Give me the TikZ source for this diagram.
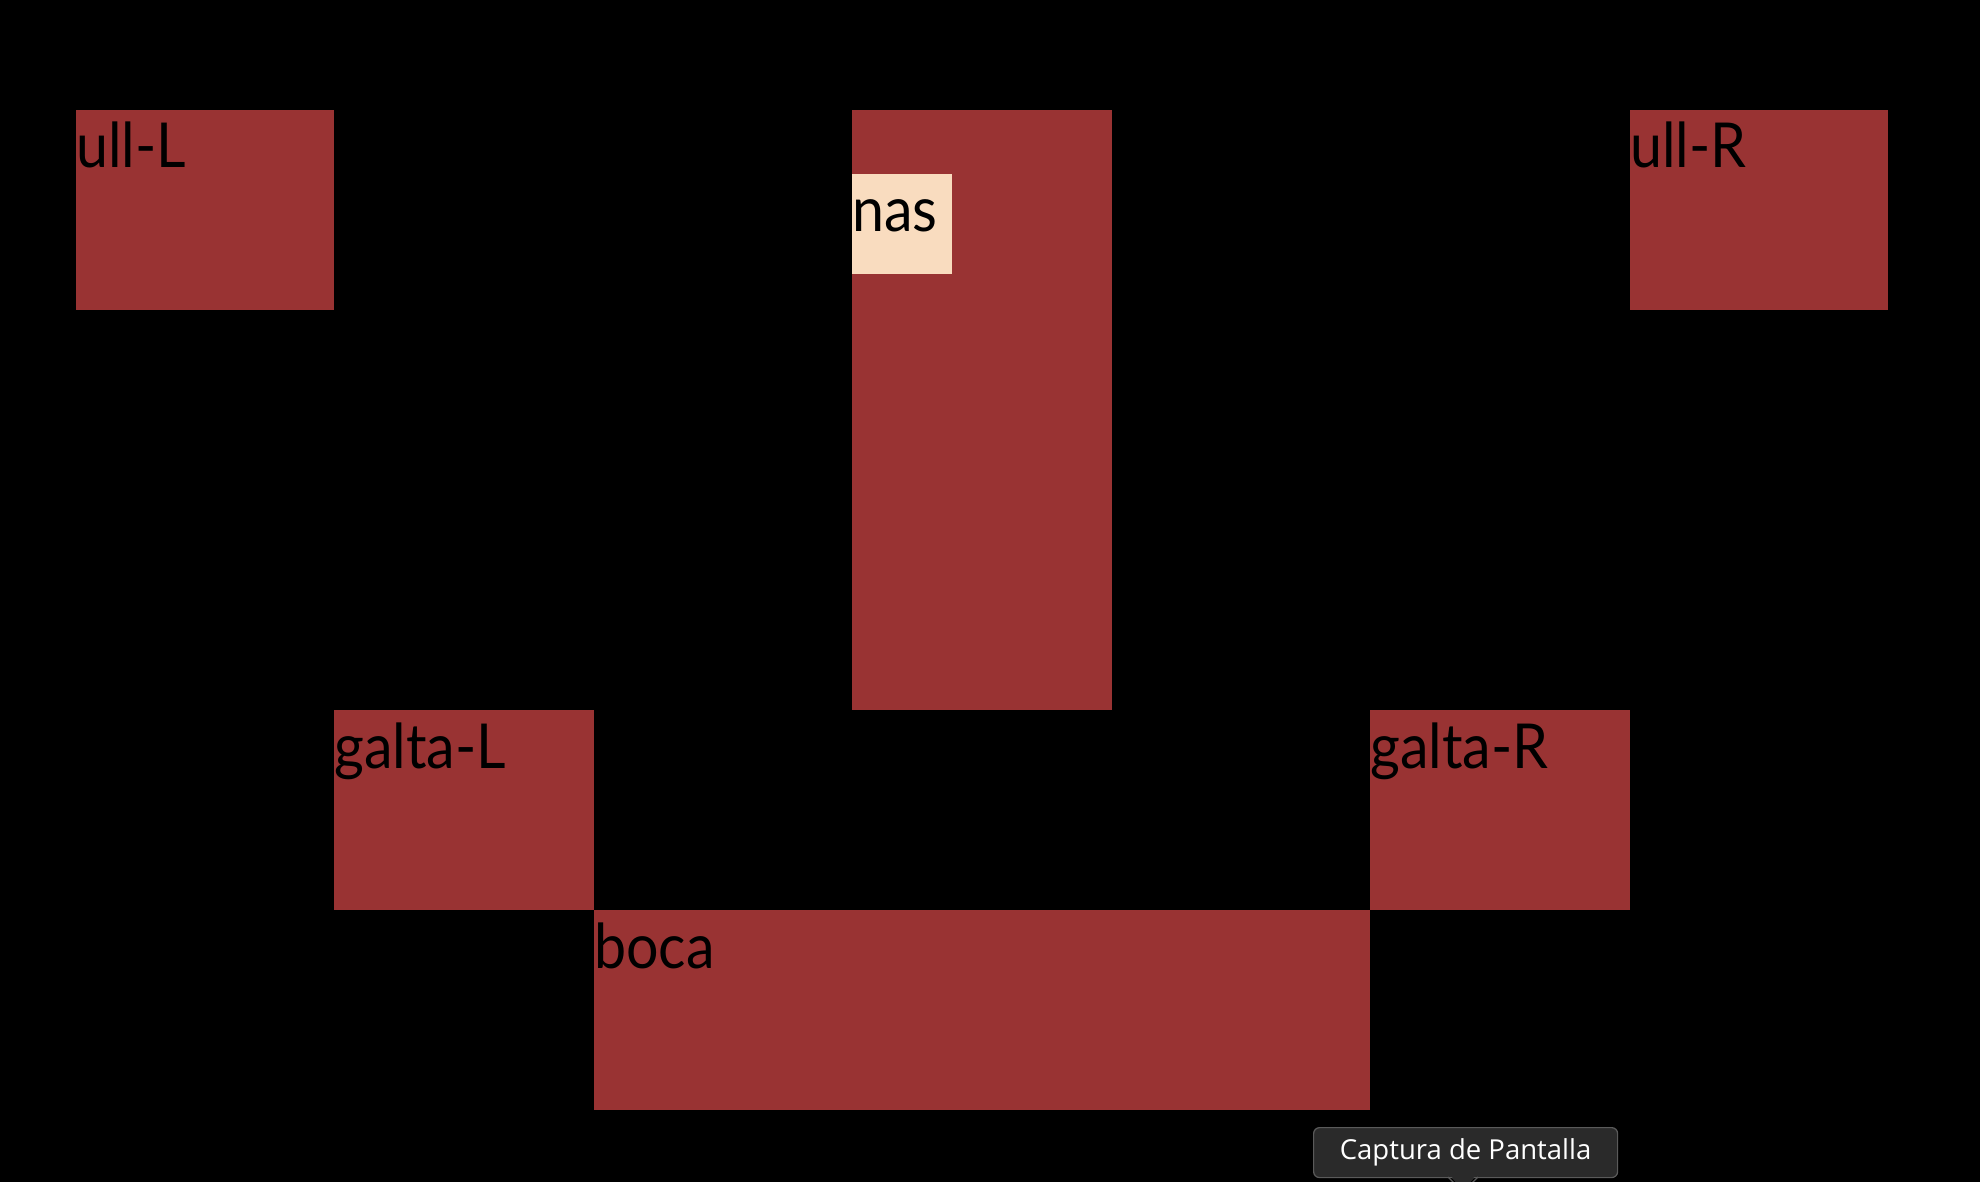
\documentclass[tikz,border=0pt]{standalone}
\usepackage{fontspec}
\setmainfont{Lato}[FakeStretch=0.925]
\newfontfamily\tipfont{Open Sans}
\definecolor{facered}{RGB}{153,51,51}
\definecolor{cream}{RGB}{249,220,191}
\definecolor{tipbg}{RGB}{42,42,42}
\definecolor{tipline}{RGB}{90,90,90}
\tikzset{
  part/.style={fill=facered, draw=none, inner sep=0pt, anchor=north west, outer sep=0pt},
  lbl/.style={anchor=base west, inner sep=0pt, text=black, font=\fontsize{62}{62}\selectfont},
}
\begin{document}
\begin{tikzpicture}[x=1pt,y=-1pt]
\fill[black] (0,0) rectangle (1980,1182);
\useasboundingbox (0,0) rectangle (1980,1182);
\clip (0,0) rectangle (1980,1182);
% parts
\node[part, minimum width=258pt, minimum height=200pt] (ullL) at (76,110) {};
\node[part, minimum width=260pt, minimum height=600pt] (nasc) at (852,110) {};
\node[fill=cream, inner sep=0pt, outer sep=0pt, anchor=north west, minimum width=100pt, minimum height=100pt] (nasb) at (852,174) {};
\node[part, minimum width=258pt, minimum height=200pt] (ullR) at (1630,110) {};
\node[part, minimum width=260pt, minimum height=200pt] (galtaL) at (334,710) {};
\node[part, minimum width=260pt, minimum height=200pt] (galtaR) at (1370,710) {};
\node[part, minimum width=776pt, minimum height=200pt] (boca) at (594,910) {};
% labels
\node[lbl] (tullL) at (76,168) {ull-L};
\node[lbl] (tnas) at (852,232) {nas};
\node[lbl] (tullR) at (1630,168) {ull-R};
\node[lbl] (tgaltaL) at (334,768) {galta-L};
\node[lbl] (tgaltaR) at (1370,768) {galta-R};
\node[lbl] (tboca) at (594,968) {boca};
% tooltip
\fill[tipbg] (1450,1176) -- (1463,1190) -- (1476,1176) -- cycle;
\node[fill=tipbg, draw=tipline, line width=1.2pt, rounded corners=6pt, anchor=north west,
      minimum width=304pt, minimum height=50pt, inner sep=0pt,
      text=white, font=\tipfont\fontsize{27.5}{27.5}\selectfont] (tip) at (1313,1127) {Captura de Pantalla};
\fill[tipbg] (1451,1176) -- (1463,1189) -- (1475,1176) -- cycle;
\draw[tipline, line width=1.2pt] (1448,1177) -- (1463,1192) -- (1478,1177);
\end{tikzpicture}
\end{document}
